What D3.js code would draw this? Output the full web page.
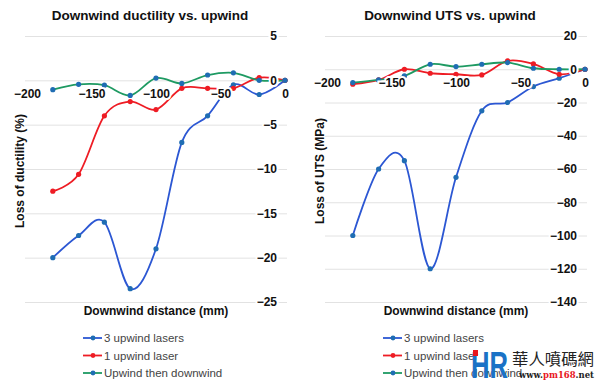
<!DOCTYPE html>
<html>
<head>
<meta charset="utf-8">
<script src="https://cdn.jsdelivr.net/npm/d3@7"></script>
<style>
  body { margin: 0; background: #fff; }
  svg { font-family: "Liberation Sans", Arial, sans-serif; }
  .grid line { stroke: #e2e2e2; stroke-width: 1; }
  .grid .domain { display: none; }
  .tick-lab text { font-size: 12px; font-weight: bold; fill: #111;
                   stroke: #fff; stroke-width: 4px; paint-order: stroke; }
  .tick-lab .domain { display: none; }
</style>
</head>
<body>
<div id="chart"></div>
<script>
// downwind distance (mm)
const distances = [-180, -160, -140, -120, -100, -80, -60, -40, -20, 0];

// loss of ductility (%)
const ductility3 = [-20, -17.5, -16, -23.5, -19, -7, -4, -0.5, -1.6, 0];
const ductility1 = [-12.5, -10.6, -4, -2.4, -3.3, -0.9, -0.9, -0.9, 0.3, 0];
const ductilityUD = [-1.05, -0.45, -0.55, -1.7, 0.25, -0.35, 0.6, 0.85, 0, 0];

// loss of UTS (MPa)
const uts3 = [-100, -60, -55, -120, -65, -25, -20, -10.4, -5.4, 0];
const uts1 = [-9, -6.4, 0, -2.4, -3, -3.4, 5, 3.2, -3, 0];
const utsUD = [-8, -6.4, -4, 3, 1.6, 3, 4, 0.6, 0, 0];

const xTicks = [-200, -150, -100, -50, 0];
const ductTicks = [5, 0, -5, -10, -15, -20, -25];
const utsTicks = [20, 0, -20, -40, -60, -80, -100, -120, -140];

const seriesNames = ["3 upwind lasers", "1 upwind laser", "Upwind then downwind"];

const WIDTH = 600, HEIGHT = 386;
const COLORS = [
  {line: "#2c57d3", dot: "#1f6db3"},
  {line: "#ee1c24", dot: "#ee1c24"},
  {line: "#1e9a62", dot: "#1f6db3"}
];

const svg = d3.select("#chart").append("svg")
  .attr("width", WIDTH)
  .attr("height", HEIGHT);

function drawPanel(ox, title, yTitle, yDomain, yTicks, values) {
  const g = svg.append("g").attr("transform", "translate(" + ox + ",0)");

  const x = d3.scaleLinear().domain([-200, 0]).range([27, 285]);
  const y = d3.scaleLinear().domain(yDomain).range([302, 36]);

  // gridlines
  g.append("g")
    .attr("class", "grid")
    .attr("transform", "translate(25,0)")
    .call(d3.axisRight(y).tickValues(yTicks).tickSize(262).tickFormat(""));

  // title
  g.append("text")
    .attr("x", 150).attr("y", 20)
    .attr("text-anchor", "middle")
    .style("font-size", "13.5px").style("font-weight", "bold").style("fill", "#111")
    .text(title);

  // y axis title
  g.append("text")
    .attr("transform", "translate(24,171) rotate(-90)")
    .attr("text-anchor", "middle")
    .style("font-size", "12px").style("font-weight", "bold").style("fill", "#111")
    .text(yTitle);

  // x axis title
  g.append("text")
    .attr("x", 156).attr("y", 315)
    .attr("text-anchor", "middle")
    .style("font-size", "12px").style("font-weight", "bold").style("fill", "#111")
    .text("Downwind distance (mm)");

  // lines + dots
  const line = d3.line()
    .x((d, i) => x(distances[i]))
    .y(d => y(d))
    .curve(d3.curveCardinal.tension(0));

  values.forEach((vals, k) => {
    g.append("path")
      .attr("fill", "none")
      .attr("stroke", COLORS[k].line)
      .attr("stroke-width", 1.8)
      .attr("d", line(vals));
  });
  values.forEach((vals, k) => {
    g.append("g").selectAll("circle")
      .data(vals)
      .enter()
      .append("circle")
        .attr("cx", (d, i) => x(distances[i]))
        .attr("cy", d => y(d))
        .attr("r", 2.6)
        .attr("fill", COLORS[k].dot);
  });

  // y tick labels (right side)
  g.append("g")
    .attr("class", "tick-lab")
    .attr("transform", "translate(277,0)")
    .call(d3.axisLeft(y).tickValues(yTicks).tickSize(0).tickPadding(0));

  // x tick labels along zero line
  g.append("g")
    .attr("class", "tick-lab")
    .attr("transform", "translate(0," + (y(0) + 9) + ")")
    .call(d3.axisBottom(x).tickValues(xTicks).tickSize(0).tickPadding(0));

  // legend
  const leg = g.append("g");
  seriesNames.forEach((name, k) => {
    const ly = 338 + k * 17.5;
    leg.append("line")
      .attr("x1", 83).attr("x2", 102).attr("y1", ly).attr("y2", ly)
      .attr("stroke", COLORS[k].line).attr("stroke-width", 1.8);
    leg.append("circle")
      .attr("cx", 93).attr("cy", ly).attr("r", 2.4)
      .attr("fill", COLORS[k].dot);
    leg.append("text")
      .attr("x", 104).attr("y", ly + 4)
      .style("font-size", "11.5px").style("fill", "#444")
      .text(name);
  });
}

drawPanel(0, "Downwind ductility vs. upwind", "Loss of ductility (%)",
  [-25, 5], ductTicks, [ductility3, ductility1, ductilityUD]);
drawPanel(300, "Downwind UTS vs. upwind", "Loss of UTS (MPa)",
  [-140, 20], utsTicks, [uts3, uts1, utsUD]);

// watermark
const wm = svg.append("g");
wm.append("text")
  .attr("x", 471).attr("y", 378)
  .attr("textLength", 37).attr("lengthAdjust", "spacingAndGlyphs")
  .style("font-size", "36px").style("font-weight", "bold").style("fill", "#1a72c6")
  .text("HR");
wm.append("rect")
  .attr("x", 473).attr("y", 350).attr("width", 5).attr("height", 6)
  .attr("fill", "#e8161e");
wm.append("text")
  .attr("x", 512).attr("y", 365)
  .attr("textLength", 82).attr("lengthAdjust", "spacingAndGlyphs")
  .style("font-family", "'Noto Sans CJK TC', sans-serif")
  .style("font-size", "16px").style("fill", "#222")
  .text("華人噴碼網");
const url = wm.append("text")
  .attr("x", 519).attr("y", 378)
  .attr("textLength", 75).attr("lengthAdjust", "spacingAndGlyphs")
  .style("font-family", "'DejaVu Serif', serif")
  .style("font-size", "9px").style("font-weight", "bold");
url.append("tspan").style("fill", "#222").text("www.");
url.append("tspan").style("fill", "#e8161e").text("pm168");
url.append("tspan").style("fill", "#222").text(".net");
</script>
</body>
</html>
